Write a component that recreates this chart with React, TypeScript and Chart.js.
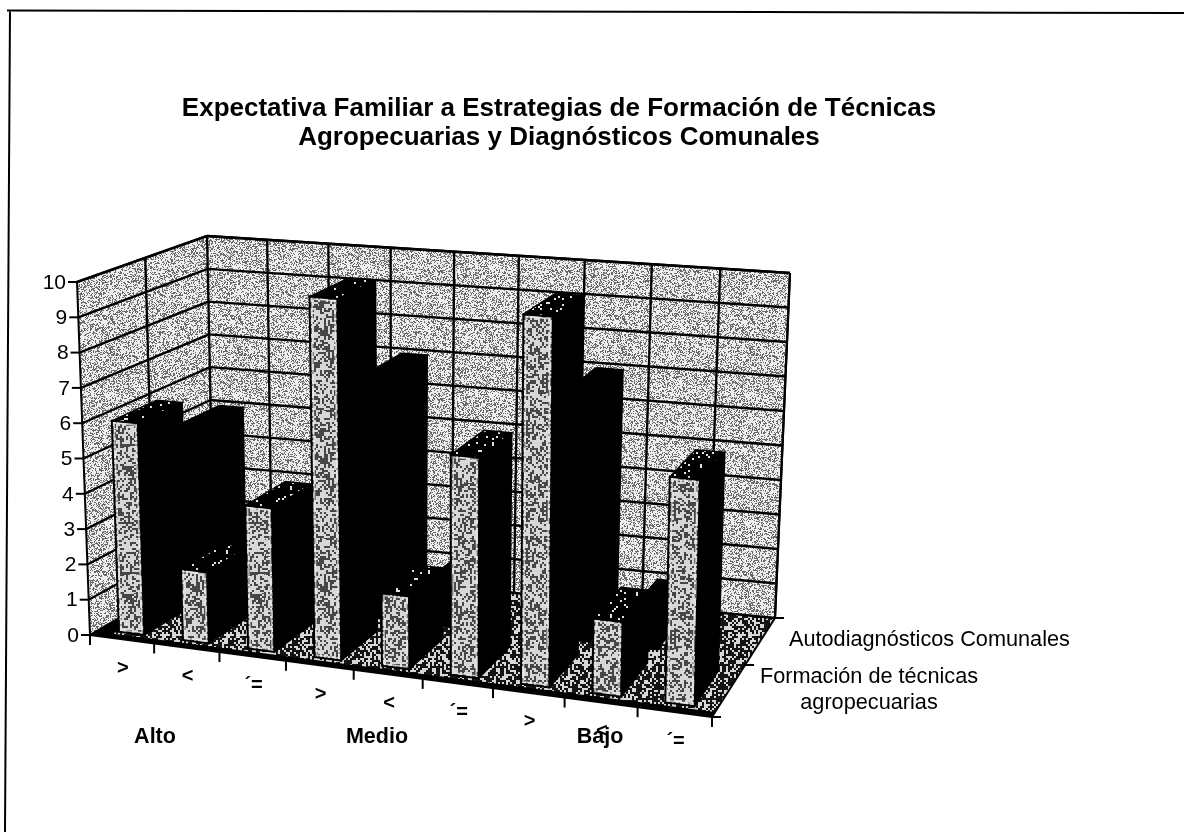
import React, { useEffect, useRef } from "react";
import { Chart, registerables } from "chart.js";

Chart.register(...registerables);

const categories = [">", "<", "´=", ">", "<", "´=", ">", "<", "´="];
const groups = ["Alto", "Medio", "Bajo"];
const seriesNames = ["Formación de técnicas agropecuarias", "Autodiagnósticos Comunales"];
const formacion = [6, 2, 4, 10, 2, 6, 10, 2, 6];
const autodiagnosticos = [5, 2, 3, 7, 1.3, 0, 7, 1, 0];
const titleLines = [
  "Expectativa Familiar a Estrategias de Formación de Técnicas",
  "Agropecuarias y Diagnósticos Comunales",
];

type Pt = [number, number];
const FL: Pt = [90, 635], FR: Pt = [712, 717], BL: Pt = [214, 564], BR: Pt = [775, 618];
const TFL: Pt = [77, 282], TFR: Pt = [721, 336], TBL: Pt = [207, 236], TBR: Pt = [790, 273];
const depths = [[0.08, 0.44], [0.58, 0.93]];

const lerp = (a: Pt, b: Pt, t: number): Pt => [a[0] + (b[0] - a[0]) * t, a[1] + (b[1] - a[1]) * t];
const warp = (u: number) => u / (1 + 0.087 * (1 - u));
const P = (u: number, d: number, h: number): Pt => {
  const w = warp(u);
  const floor = lerp(lerp(FL, FR, w), lerp(BL, BR, w), d);
  const top = lerp(lerp(TFL, TFR, w), lerp(TBL, TBR, w), d);
  return lerp(floor, top, h);
};

function hash(x: number, y: number) {
  const s = Math.sin(x * 12.9898 + y * 78.233) * 43758.5453;
  return s - Math.floor(s);
}
function tile(size: number, block: number, fn: (x: number, y: number) => number) {
  const c = document.createElement("canvas");
  c.width = c.height = size;
  const g = c.getContext("2d")!;
  for (let y = 0; y < size; y += block)
    for (let x = 0; x < size; x += block) {
      const v = fn(x, y);
      g.fillStyle = `rgb(${v},${v},${v})`;
      g.fillRect(x, y, block, block);
    }
  return g.createPattern(c, "repeat")!;
}

function poly(ctx: CanvasRenderingContext2D, pts: Pt[]) {
  ctx.beginPath();
  pts.forEach((p, i) => (i ? ctx.lineTo(p[0], p[1]) : ctx.moveTo(p[0], p[1])));
  ctx.closePath();
}
function line(ctx: CanvasRenderingContext2D, a: Pt, b: Pt, w = 2) {
  ctx.lineWidth = w;
  ctx.strokeStyle = "#000";
  ctx.beginPath();
  ctx.moveTo(a[0], a[1]);
  ctx.lineTo(b[0], b[1]);
  ctx.stroke();
}

export default function App() {
  const ref = useRef<HTMLCanvasElement>(null);
  useEffect(() => {
    document.body.style.margin = "0";
    document.body.style.background = "#fff";
    const wall = tile(128, 1, (x, y) => (hash(x, y) < 0.36 ? 105 : 238));
    const face = tile(128, 1, (x, y) => {
      const blob = hash(Math.floor(x / 9), Math.floor(y / 9));
      const coarse = hash(Math.floor(x / 2), Math.floor(y / 2));
      return coarse < 0.3 + blob * 0.3 ? 70 : 215;
    });
    const topFace = tile(64, 2, (x, y) => (hash(x, y) < 0.08 ? 225 : 0));
    const floorFill = tile(64, 2, (x, y) => (hash(x, y) < 0.42 ? 215 : 20));

    const plugin = {
      id: "bars3d",
      beforeDatasetsDraw(chart: any) {
        const { ctx, scales } = chart;
        const y = scales.y;
        const H = (v: number) => (y.bottom - y.getPixelForValue(v)) / (y.bottom - y.top);
        ctx.save();
        poly(ctx, [P(0, 1, 0), P(1, 1, 0), P(1, 1, 1), P(0, 1, 1)]);
        ctx.fillStyle = wall; ctx.fill();
        poly(ctx, [P(0, 0, 0), P(0, 1, 0), P(0, 1, 1), P(0, 0, 1)]);
        ctx.fillStyle = wall; ctx.fill();
        poly(ctx, [P(0, 0, 0), P(1, 0, 0), P(1, 1, 0), P(0, 1, 0)]);
        ctx.fillStyle = floorFill; ctx.fill();
        poly(ctx, [P(0, 0, 0), P(1, 0, 0), P(1, 0.05, 0), P(0, 0.05, 0)]);
        ctx.fillStyle = "#000"; ctx.fill();
        poly(ctx, [P(0, 0, 0), P(0, 1, 0), P(0.03, 1, 0), P(0.03, 0, 0)]);
        ctx.fill();

        for (const t of y.ticks) {
          const h = H(t.value);
          line(ctx, P(0, 0, h), P(0, 1, h), 2.3);
          line(ctx, P(0, 1, h), P(1, 1, h), 2.3);
          const a = P(0, 0, h);
          line(ctx, [a[0] - 9, a[1]], a);
          ctx.fillStyle = "#000";
          ctx.font = "21px 'Liberation Sans'";
          ctx.textAlign = "right";
          ctx.textBaseline = "middle";
          ctx.fillText(String(t.value), a[0] - 11, a[1] + 1);
        }
        line(ctx, P(0, 0.525, 0), P(0, 0.525, 1), 2.3);
        const n = categories.length;
        for (let i = 0; i <= n; i++) {
          const u = i / n;
          line(ctx, P(u, 1, 0), P(u, 1, 1), 2.3);
          const f = P(u, 0, 0);
          line(ctx, f, [f[0], f[1] + 10]);
        }
        line(ctx, P(0, 0, 0), P(0, 0, 1));
        line(ctx, P(1, 1, 0), P(1, 1, 1));
        line(ctx, P(0, 0, 1), P(0, 1, 1), 2.5);
        line(ctx, P(0, 1, 1), P(1, 1, 1), 2.5);
        line(ctx, P(0, 0, 0), P(1, 0, 0), 2);
        line(ctx, P(1, 0, 0), P(1, 1, 0), 2);
        for (const d of [0, 0.525, 1]) {
          const q = P(1, d, 0);
          line(ctx, q, [q[0] + 9, q[1]]);
        }
        ctx.restore();
      },
      beforeDatasetDraw(chart: any, args: any) {
        const { ctx, scales } = chart;
        const a = chart.chartArea;
        const y = scales.y;
        const ds = chart.data.datasets[args.index];
        const [d0, d1] = depths[args.index];
        ctx.save();
        args.meta.data.forEach((el: any) => {
          const u0 = (el.x - el.width / 2 - a.left) / (a.right - a.left);
          const u1 = (el.x + el.width / 2 - a.left) / (a.right - a.left);
          const h = (y.bottom - el.y) / (y.bottom - y.top);
          if (h <= 0) return;
          poly(ctx, [P(u1, d0, 0), P(u1, d1, 0), P(u1, d1, h), P(u1, d0, h)]);
          ctx.fillStyle = "#000"; ctx.fill();
          ctx.strokeStyle = "#000"; ctx.lineWidth = 1.5; ctx.stroke();
          poly(ctx, [P(u0, d0, h), P(u1, d0, h), P(u1, d1, h), P(u0, d1, h)]);
          ctx.fillStyle = ds.topColor; ctx.fill(); ctx.stroke();
          poly(ctx, [P(u0, d0, 0), P(u1, d0, 0), P(u1, d0, h), P(u0, d0, h)]);
          ctx.fillStyle = ds.backgroundColor; ctx.fill();
          ctx.strokeStyle = "#000"; ctx.lineWidth = 2; ctx.stroke();
          if (args.index === 0) {
            const e = 0.004, eh = 0.006;
            poly(ctx, [P(u0 + e, d0, eh), P(u1 - e, d0, eh), P(u1 - e, d0, h - eh), P(u0 + e, d0, h - eh)]);
            ctx.strokeStyle = "rgba(235,235,235,0.7)"; ctx.lineWidth = 1.5; ctx.stroke();
          }
        });
        ctx.restore();
        return false;
      },
      afterDatasetsDraw(chart: any) {
        const { ctx } = chart;
        ctx.save();
        ctx.fillStyle = "#000";
        ctx.textBaseline = "middle";
        ctx.textAlign = "center";
        const n = categories.length;
        categories.forEach((c, i) => {
          const p = P((i + 0.5) / n, 0, 0);
          ctx.font = "bold 20px 'Liberation Sans'";
          ctx.fillText(c, p[0] + 1, p[1] + 29);
        });
        const gx = [155, 377, 600];
        groups.forEach((g, i) => {
          ctx.font = "bold 21.5px 'Liberation Sans'";
          ctx.fillText(g, gx[i], 737);
        });
        ctx.font = "21.7px 'Liberation Sans'";
        ctx.textAlign = "left";
        ctx.fillText(seriesNames[1], 789, 640);
        ctx.textAlign = "center";
        const parts = seriesNames[0].split(" de técnicas ");
        ctx.fillText(parts[0] + " de técnicas", 869, 677);
        ctx.fillText(parts[1], 869, 703);
        ctx.restore();
      },
    };

    const chart = new Chart(ref.current!, {
      type: "bar",
      data: {
        labels: categories,
        datasets: [
          { label: seriesNames[0], data: formacion, backgroundColor: face as any, topColor: topFace, grouped: false, barPercentage: 0.4, categoryPercentage: 1 } as any,
          { label: seriesNames[1], data: autodiagnosticos, backgroundColor: "#000", topColor: "#000", grouped: false, barPercentage: 0.4, categoryPercentage: 1 } as any,
        ],
      },
      options: {
        responsive: false,
        animation: false,
        events: [],
        layout: { padding: { top: 60, left: 90, right: 90, bottom: 100 } },
        plugins: {
          legend: { display: false },
          tooltip: { enabled: false },
          title: {
            display: true,
            text: titleLines,
            color: "#000",
            font: { family: "'Liberation Sans'", size: 26, weight: "bold", lineHeight: 1.12 },
            padding: { top: 34, bottom: 0 },
          },
        },
        scales: {
          x: { display: false, offset: true },
          y: { display: false, min: 0, max: 10, ticks: { stepSize: 1 } },
        },
      },
      plugins: [plugin as any],
    });
    return () => chart.destroy();
  }, []);
  return (
    <div style={{ position: "relative", width: 1184, height: 832, overflow: "hidden", background: "#fff" }}>
      <canvas ref={ref} width={1118} height={832} style={{ position: "absolute", left: 0, top: 0 }} />
      <svg width={1184} height={832} style={{ position: "absolute", left: 0, top: 0 }}>
        <path d="M1184 13 L7 10.5 M10 10 L5 832" stroke="#000" strokeWidth={2} fill="none" />
      </svg>
    </div>
  );
}
